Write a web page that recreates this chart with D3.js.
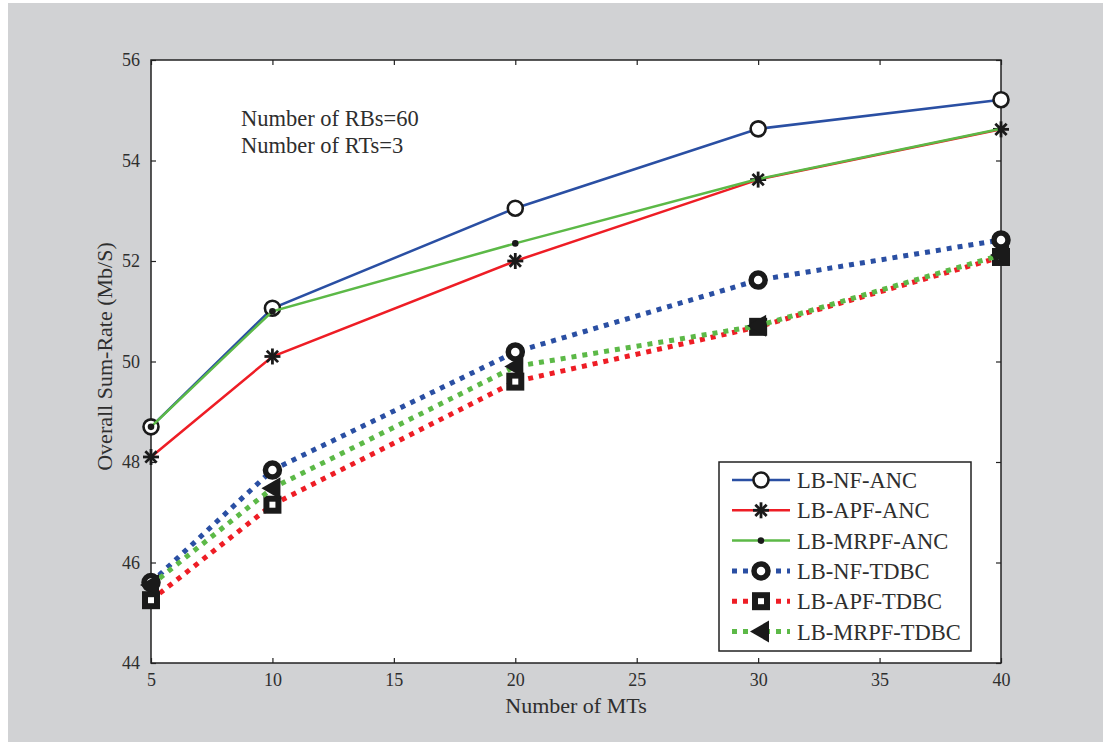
<!DOCTYPE html>
<html>
<head>
<meta charset="utf-8">
<script src="https://cdn.jsdelivr.net/npm/d3@7"></script>
<style>
  body { margin: 0; background: #fff; }
  svg text { font-family: "Liberation Serif", "DejaVu Serif", serif; fill: #2e2e2e; }
</style>
</head>
<body>
<div id="chart"></div>
<script>
// Chart data
const mts = [5, 10, 20, 30, 40];
const nfAnc = [48.70, 51.06, 53.05, 54.63, 55.21];
const apfAnc = [48.10, 50.10, 52.00, 53.62, 54.62];
const mrpfAnc = [48.70, 51.00, 52.35, 53.63, 54.63];
const nfTdbc = [45.60, 47.84, 50.19, 51.62, 52.42];
const apfTdbc = [45.25, 47.15, 49.60, 50.69, 52.08];
const mrpfTdbc = [45.55, 47.48, 49.90, 50.71, 52.12];
const xTicks = [5, 10, 15, 20, 25, 30, 35, 40];
const yTicks = [44, 46, 48, 50, 52, 54, 56];
const seriesNames = ["LB-NF-ANC", "LB-APF-ANC", "LB-MRPF-ANC", "LB-NF-TDBC", "LB-APF-TDBC", "LB-MRPF-TDBC"];
const notes = ["Number of RBs=60", "Number of RTs=3"];

const BLUE = "#2a4fa3", RED = "#ee1d25", GREEN = "#5cb947";
const series = [
  {name: seriesNames[0], values: nfAnc, color: BLUE, dotted: false, marker: "circle"},
  {name: seriesNames[1], values: apfAnc, color: RED, dotted: false, marker: "star"},
  {name: seriesNames[2], values: mrpfAnc, color: GREEN, dotted: false, marker: "dot"},
  {name: seriesNames[3], values: nfTdbc, color: BLUE, dotted: true, marker: "ring"},
  {name: seriesNames[4], values: apfTdbc, color: RED, dotted: true, marker: "square"},
  {name: seriesNames[5], values: mrpfTdbc, color: GREEN, dotted: true, marker: "triangle"}
];

const width = 1103, height = 742;
const plot = {left: 151, top: 60, right: 1001, bottom: 663};

const svg = d3.select("#chart").append("svg")
  .attr("width", width).attr("height", height);

// Gray page background with a thin white margin at top and left
svg.append("rect").attr("x", 8).attr("y", 3)
  .attr("width", width - 8).attr("height", height - 3)
  .attr("fill", "#d1d2d4");

svg.append("rect").attr("x", plot.left).attr("y", plot.top)
  .attr("width", plot.right - plot.left).attr("height", plot.bottom - plot.top)
  .attr("fill", "#fff");

const x = d3.scaleLinear().domain([5, 40]).range([plot.left, plot.right]);
const y = d3.scaleLinear().domain([44, 56]).range([plot.bottom, plot.top]);

// Axes: ticks pointing inward on all four sides
const tickLen = 5;
const axisStyle = function(g){
  g.select(".domain").remove();
  g.selectAll(".tick line").attr("stroke", "#222").attr("stroke-width", 1.2);
  g.selectAll(".tick text").attr("fill", "#333").style("font-size", "18px")
    .style("font-family", "'Liberation Serif', serif");
};
svg.append("g").attr("transform", `translate(0,${plot.bottom})`)
  .call(d3.axisBottom(x).tickValues(xTicks).tickSizeInner(-tickLen).tickPadding(10).tickFormat(d3.format("d")))
  .call(axisStyle);
svg.append("g").attr("transform", `translate(0,${plot.top})`)
  .call(d3.axisTop(x).tickValues(xTicks).tickSizeInner(-tickLen).tickFormat(""))
  .call(axisStyle);
svg.append("g").attr("transform", `translate(${plot.left},0)`)
  .call(d3.axisLeft(y).tickValues(yTicks).tickSizeInner(-tickLen).tickPadding(11).tickFormat(d3.format("d")))
  .call(axisStyle);
svg.append("g").attr("transform", `translate(${plot.right},0)`)
  .call(d3.axisRight(y).tickValues(yTicks).tickSizeInner(-tickLen).tickFormat(""))
  .call(axisStyle);

svg.append("rect").attr("x", plot.left).attr("y", plot.top)
  .attr("width", plot.right - plot.left).attr("height", plot.bottom - plot.top)
  .attr("fill", "none").attr("stroke", "#222").attr("stroke-width", 1.5);

// Axis titles
svg.append("text").attr("x", (plot.left + plot.right) / 2).attr("y", 713)
  .attr("text-anchor", "middle").style("font-size", "22px").text("Number of MTs");
svg.append("text")
  .attr("transform", `translate(112,${(plot.top + plot.bottom) / 2 - 5}) rotate(-90)`)
  .attr("text-anchor", "middle").style("font-size", "22px").text("Overall Sum-Rate (Mb/S)");

// Annotation
svg.append("g").selectAll("text").data(notes).enter().append("text")
  .attr("x", 241).attr("y", function(d, i){ return 126 + i * 27; })
  .style("font-size", "22.5px").text(function(d){ return d; });

/**
* Draw a marker of the given kind centred at (cx, cy) inside g
*/
function drawMarker(g, kind, cx, cy){
  if (kind === "circle") {
    g.append("circle").attr("cx", cx).attr("cy", cy).attr("r", 7.5)
      .attr("fill", "#fff").attr("stroke", "#1a1a1a").attr("stroke-width", 2.6);
  } else if (kind === "star") {
    const r = 8;
    [0, 45, 90, 135].forEach(function(a){
      const t = a * Math.PI / 180;
      g.append("line")
        .attr("x1", cx - r * Math.cos(t)).attr("y1", cy - r * Math.sin(t))
        .attr("x2", cx + r * Math.cos(t)).attr("y2", cy + r * Math.sin(t))
        .attr("stroke", "#1a1a1a").attr("stroke-width", 2.8);
    });
  } else if (kind === "dot") {
    g.append("circle").attr("cx", cx).attr("cy", cy).attr("r", 3.3).attr("fill", "#1a1a1a");
  } else if (kind === "ring") {
    g.append("circle").attr("cx", cx).attr("cy", cy).attr("r", 7)
      .attr("fill", "#fff").attr("stroke", "#1a1a1a").attr("stroke-width", 5.5);
  } else if (kind === "square") {
    g.append("rect").attr("x", cx - 9).attr("y", cy - 9).attr("width", 18).attr("height", 18)
      .attr("fill", "#1a1a1a");
    g.append("rect").attr("x", cx - 3).attr("y", cy - 3).attr("width", 6).attr("height", 6)
      .attr("fill", "#fff");
  } else if (kind === "triangle") {
    g.append("path").attr("d", `M${cx - 11},${cy} L${cx + 8},${cy - 11} L${cx + 8},${cy + 11} Z`)
      .attr("fill", "#1a1a1a");
  }
}

const line = d3.line()
  .x(function(d){ return x(d[0]); })
  .y(function(d){ return y(d[1]); });

const seriesG = svg.append("g");
series.forEach(function(s){
  const pts = mts.map(function(m, i){ return [m, s.values[i]]; });
  const g = seriesG.append("g");
  g.append("path").datum(pts).attr("d", line)
    .attr("fill", "none").attr("stroke", s.color)
    .attr("stroke-width", s.dotted ? 5 : 2.5)
    .attr("stroke-dasharray", s.dotted ? "5,6" : null);
  pts.forEach(function(p){ drawMarker(g, s.marker, x(p[0]), y(p[1])); });
});

// Legend
const legend = {x: 719, y: 462, w: 252, h: 189};
const lg = svg.append("g");
lg.append("rect").attr("x", legend.x).attr("y", legend.y)
  .attr("width", legend.w).attr("height", legend.h)
  .attr("fill", "#fff").attr("stroke", "#222").attr("stroke-width", 1.5);
series.forEach(function(s, i){
  const cy = 480 + i * 30.3;
  lg.append("line").attr("x1", 732).attr("x2", 790).attr("y1", cy).attr("y2", cy)
    .attr("stroke", s.color).attr("stroke-width", s.dotted ? 5 : 2.5)
    .attr("stroke-dasharray", s.dotted ? "5,6" : null);
  drawMarker(lg, s.marker, 761, cy);
  lg.append("text").attr("x", 797).attr("y", cy + 8)
    .style("font-size", "22.5px").text(s.name);
});
</script>
</body>
</html>
